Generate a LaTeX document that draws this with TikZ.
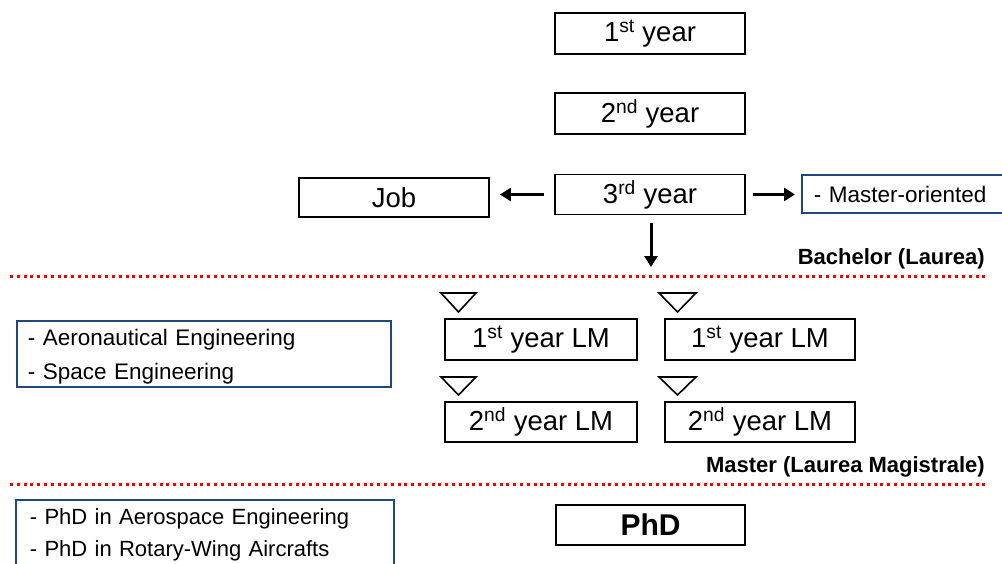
\documentclass[tikz,border=0pt]{standalone}
\usepackage{fontspec}
\setmainfont{Liberation Sans}
\usetikzlibrary{arrows.meta}
\definecolor{boxblue}{RGB}{31,73,125}
\definecolor{dotred}{RGB}{255,0,0}
\tikzset{
  yearbox/.style={draw=black, line width=1.8pt, minimum width=190pt, minimum height=41pt, inner sep=0pt, font=\fontsize{27.5}{30}\selectfont},
  sidebox/.style={draw=boxblue, line width=1.8pt, inner sep=0pt, align=left, font=\fontsize{22.5}{34}\selectfont},
  arr/.style={line width=3pt, -{Triangle[length=11pt,width=13pt]}},
  sepline/.style={dotred, line width=3pt, dash pattern=on 3pt off 3.8pt},
  seplabel/.style={anchor=east, inner sep=0pt, font=\fontsize{22}{24}\selectfont\bfseries},
  tri/.style={draw=black, line width=1.6pt, fill=white, line join=miter}
}
\begin{document}
\begin{tikzpicture}[x=1pt,y=-1pt]
\useasboundingbox (0,0) rectangle (1002,563);
\clip (0,0) rectangle (1002,563);

% bachelor years
\node[yearbox] (y1) at (650,33.5) {1\textsuperscript{st} year};
\node[yearbox] (y2) at (650,113.5) {2\textsuperscript{nd} year};
\node[yearbox, minimum height=40pt] (y3) at (650,194.5) {3\textsuperscript{rd} year};
\node[yearbox, minimum height=39pt] (job) at (394,197.5) {Job};
\node[sidebox, anchor=west, minimum height=38pt, text width=200pt, inner xsep=12pt] (mo) at (801,194) {- Master-oriented};
\coordinate (down) at (651,267);

\draw[arr, shorten <=10pt, shorten >=10pt] (y3.west) -- (y3.west -| job.east);
\draw[arr, shorten <=7pt, shorten >=6pt] (y3.east) -- (y3.east -| mo.west);
\draw[arr, shorten <=8pt] (y3.south -| down) -- (down);

\node[seplabel] (bach) at (985,259) {Bachelor (Laurea)};
\draw[sepline] (10,276) -- (985,276);

% master
\node[sidebox, anchor=north west, inner ysep=0pt, inner xsep=11pt, text width=352pt] (spec) at (16,320) {\rule{0pt}{25pt}- Aeronautical Engineering\\- Space Engineering\rule[-7pt]{0pt}{7pt}};

\node[yearbox, minimum width=192pt] (lm1a) at (541,339.5) {1\textsuperscript{st} year LM};
\node[yearbox] (lm1b) at (760,339.5) {1\textsuperscript{st} year LM};
\node[yearbox, minimum width=192pt, minimum height=40pt] (lm2a) at (541,422) {2\textsuperscript{nd} year LM};
\node[yearbox, minimum height=40pt] (lm2b) at (760,422) {2\textsuperscript{nd} year LM};

\draw[tri] (441,293) -- (476,293) -- (458.5,312) -- cycle;
\draw[tri] (659,293) -- (696,293) -- (677.5,312) -- cycle;
\draw[tri] (441,377) -- (476,377) -- (458.5,395) -- cycle;
\draw[tri] (659,377) -- (696,377) -- (677.5,395) -- cycle;

\node[seplabel] (mast) at (985,467) {Master (Laurea Magistrale)};
\draw[sepline] (10,484) -- (988,484);

% phd
\node[yearbox, line width=1.2pt, minimum width=189pt, minimum height=40pt, font=\fontsize{30}{34}\selectfont\bfseries] (phd) at (650.5,525) {PhD};
\node[sidebox, anchor=north west, text width=350pt, inner xsep=14pt, inner ysep=0pt, font=\fontsize{22}{32}\selectfont] (phdlist) at (15,499) {\rule{0pt}{25pt}- PhD in Aerospace Engineering\\- PhD in Rotary-Wing Aircrafts\rule[-20pt]{0pt}{20pt}};
\end{tikzpicture}
\end{document}
